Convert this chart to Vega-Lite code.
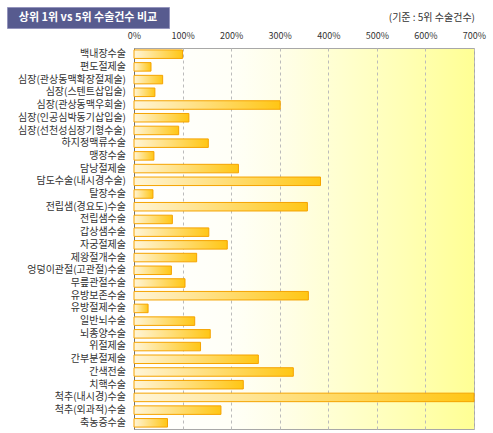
{
  "$schema": "https://vega.github.io/schema/vega-lite/v6.json",
  "padding": {"left": 6, "top": 6, "right": 5, "bottom": 5},
  "background": "white",
  "config": {"font": "Noto Sans CJK KR"},
  "datasets": {
    "ops": [
      {"name": "백내장수술", "pct": 100},
      {"name": "편도절제술", "pct": 35},
      {"name": "심장(관상동맥확장절제술)", "pct": 59},
      {"name": "심장(스텐트삽입술)", "pct": 43},
      {"name": "심장(관상동맥우회술)", "pct": 301},
      {"name": "심장(인공심박동기삽입술)", "pct": 113},
      {"name": "심장(선천성심장기형수술)", "pct": 92},
      {"name": "하지정맥류수술", "pct": 153},
      {"name": "맹장수술", "pct": 41},
      {"name": "담낭절제술", "pct": 215},
      {"name": "담도수술(내시경수술)", "pct": 384},
      {"name": "탈장수술", "pct": 39},
      {"name": "전립샘(경요도)수술", "pct": 357},
      {"name": "전립샘수술", "pct": 79},
      {"name": "갑상샘수술", "pct": 154},
      {"name": "자궁절제술", "pct": 192},
      {"name": "제왕절개수술", "pct": 129},
      {"name": "엉덩이관절(고관절)수술", "pct": 77},
      {"name": "무릎관절수술", "pct": 105},
      {"name": "유방보존수술", "pct": 359},
      {"name": "유방절제수술", "pct": 29},
      {"name": "일반뇌수술", "pct": 125},
      {"name": "뇌종양수술", "pct": 157},
      {"name": "위절제술", "pct": 137},
      {"name": "간부분절제술", "pct": 256},
      {"name": "간색전술", "pct": 328},
      {"name": "치핵수술", "pct": 225},
      {"name": "척추(내시경)수술", "pct": 700},
      {"name": "척추(외과적)수술", "pct": 179},
      {"name": "축농증수술", "pct": 69}
    ]
  },
  "spacing": 1,
  "vconcat": [
    {
      "spacing": 0,
      "hconcat": [
        {
          "width": 162,
          "height": 21,
          "view": {"fill": "#575b8f", "stroke": "#9494bc", "strokeWidth": 1},
          "data": {"values": [{"t": "상위 1위 vs 5위 수술건수 비교"}]},
          "mark": {"type": "text", "color": "white", "fontWeight": "bold", "fontSize": 11},
          "encoding": {"text": {"field": "t"}}
        },
        {
          "width": 305,
          "height": 21,
          "view": {"stroke": null},
          "data": {"values": [{"t": "(기준 : 5위 수술건수)"}]},
          "mark": {"type": "text", "align": "right", "fontSize": 10, "color": "#333333"},
          "encoding": {"text": {"field": "t"}, "x": {"value": "width"}}
        }
      ]
    },
    {
      "spacing": 0,
      "hconcat": [
        {
          "width": 119,
          "height": 381,
          "view": {"stroke": null},
          "data": {"name": "ops"},
          "mark": {"type": "text", "align": "right", "baseline": "middle", "fontSize": 10, "color": "#333333"},
          "encoding": {
            "y": {
              "field": "name",
              "type": "nominal",
              "sort": null,
              "scale": {"paddingInner": 0.33, "paddingOuter": 0.15},
              "axis": null
            },
            "x": {"value": "width"},
            "text": {"field": "name"}
          }
        },
        {
          "width": 340,
          "height": 381,
          "view": {
            "stroke": "#a8a8a8",
            "fill": {
              "gradient": "linear",
              "x1": 0, "x2": 1, "y1": 0, "y2": 0,
              "stops": [
                {"offset": 0, "color": "#ffffff"},
                {"offset": 0.3, "color": "#fffff6"},
                {"offset": 0.45, "color": "#fffee6"},
                {"offset": 0.6, "color": "#ffffd0"},
                {"offset": 0.8, "color": "#ffffb4"},
                {"offset": 1, "color": "#ffff94"}
              ]
            }
          },
          "data": {"name": "ops"},
          "mark": {
            "type": "bar",
            "stroke": "#f5a300",
            "strokeWidth": 1,
            "fill": {
              "gradient": "linear",
              "x1": 0, "x2": 1, "y1": 0, "y2": 0,
              "stops": [
                {"offset": 0, "color": "#fff5d8"},
                {"offset": 1, "color": "#ffc614"}
              ]
            }
          },
          "encoding": {
            "y": {
              "field": "name",
              "type": "nominal",
              "sort": null,
              "scale": {"paddingInner": 0.33, "paddingOuter": 0.15},
              "axis": {
                "title": null,
                "ticks": false,
                "labels": false,
                "minExtent": 0,
                "maxExtent": 0,
                "domainColor": "#707070"
              }
            },
            "x": {
              "field": "pct",
              "type": "quantitative",
              "scale": {"domain": [0, 700], "nice": false, "clamp": true},
              "axis": {
                "orient": "top",
                "title": null,
                "values": [0, 100, 200, 300, 400, 500, 600, 700],
                "labelExpr": "datum.value + '%'",
                "ticks": false,
                "labelPadding": 8,
                "labelFontSize": 9,
                "labelColor": "#333333",
                "labelFlush": false,
                "labelOverlap": false,
                "domain": false,
                "grid": true,
                "gridDash": [3, 3],
                "gridColor": "#bbbbbb",
                "minExtent": 16,
                "maxExtent": 16
              }
            }
          }
        }
      ]
    }
  ]
}
